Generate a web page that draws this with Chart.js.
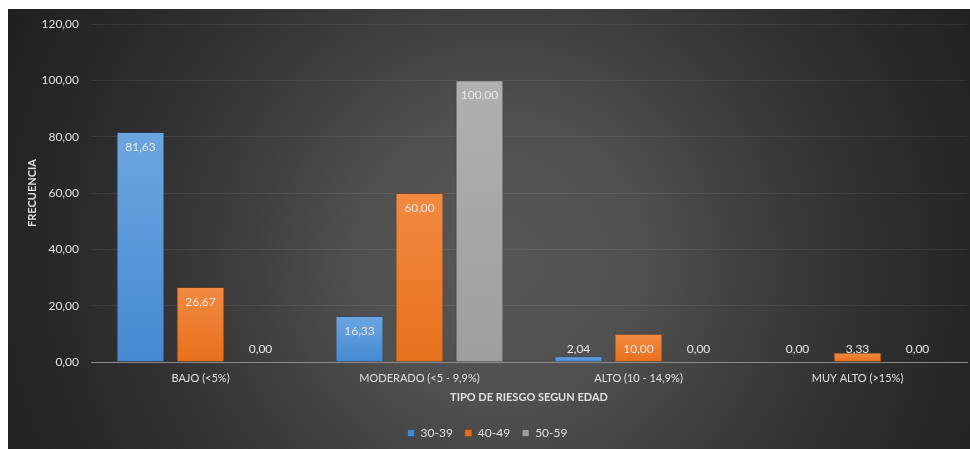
<!DOCTYPE html>
<html>
<head>
<meta charset="utf-8">
<script src="https://cdn.jsdelivr.net/npm/chart.js@4/dist/chart.umd.min.js"></script>
<style>
  body { margin: 0; background: #fff; width: 970px; height: 449px; overflow: hidden; }
  #wrap {
    position: absolute; left: 8px; top: 9px; width: 962px; height: 440px;
    background: radial-gradient(circle 560px at 492px 251px, #575757 0px, #4f4f4f 150px, #3f3f3f 250px, #323232 350px, #282828 450px, #1f1f1f 560px);
  }
</style>
</head>
<body>
<div id="wrap"><canvas id="myChart" width="962" height="440"></canvas></div>
<script>
// categories and series
const categorias = ["BAJO (<5%)", "MODERADO (<5 - 9,9%)", "ALTO (10 - 14,9%)", "MUY ALTO (>15%)"];
const edad30a39 = [81.63, 16.33, 2.04, 0];
const edad40a49 = [26.67, 60.0, 10.0, 3.33];
const edad50a59 = [0, 100.0, 0, 0];

const fmt = (v) => v.toFixed(2).replace(".", ","); //comma decimals

//vertical gradient for each bar, from its top to the zero line
function barFill(top, bottom) {
  return (ctx) => {
    const chart = ctx.chart;
    const y = chart.scales.y;
    if (!y || ctx.raw === undefined) return bottom;
    const y1 = y.getPixelForValue(ctx.raw);
    const y0 = y.getPixelForValue(0);
    if (!isFinite(y1) || !isFinite(y0) || y0 - y1 < 1) return bottom;
    const g = chart.ctx.createLinearGradient(0, y1, 0, y0);
    g.addColorStop(0, top);
    g.addColorStop(1, bottom);
    return g;
  };
}

//value labels like excel "inside end"
const valueLabels = {
  id: "valueLabels",
  afterDatasetsDraw(chart) {
    const ctx = chart.ctx;
    const base = chart.scales.y.getPixelForValue(0);
    ctx.save();
    ctx.font = "12px Lato";
    ctx.textAlign = "center";
    ctx.textBaseline = "middle";
    chart.data.datasets.forEach((ds, di) => {
      const meta = chart.getDatasetMeta(di);
      meta.data.forEach((bar, i) => {
        const y = Math.min(bar.y + 15, base - 13);
        ctx.fillStyle = "#e6e6e6";
        ctx.fillText(fmt(ds.data[i]), bar.x, y);
      });
    });
    ctx.restore();
  },
};

const ctx = document.getElementById("myChart");
const myChart = new Chart(ctx, {
  type: "bar",
  data: {
    labels: categorias,
    datasets: [
      {
        label: "30-39",
        data: edad30a39,
        backgroundColor: barFill("#6ca6df", "#4589d2"),
        borderColor: "rgba(40,70,110,0.6)",
        borderWidth: 1,
      },
      {
        label: "40-49",
        data: edad40a49,
        backgroundColor: barFill("#f28a42", "#e8701c"),
        borderColor: "rgba(120,60,20,0.6)",
        borderWidth: 1,
      },
      {
        label: "50-59",
        data: edad50a59,
        backgroundColor: barFill("#b0b0b0", "#9e9e9e"),
        borderColor: "rgba(60,60,60,0.6)",
        borderWidth: 1,
      },
    ],
  },
  options: {
    responsive: false,
    animation: false,
    layout: { padding: { top: 15, right: 3, left: 0, bottom: 0 } },
    datasets: {
      bar: { categoryPercentage: 0.822, barPercentage: 0.8 },
    },
    scales: {
      x: {
        grid: { display: false, drawTicks: false },
        border: { display: true, color: "#8c8c8c", width: 1 },
        ticks: { color: "#e0e0e0", font: { family: "Lato", size: 11 }, padding: 10 },
        title: {
          display: true,
          text: "TIPO DE RIESGO SEGUN EDAD",
          color: "#e0e0e0",
          font: { family: "Lato", size: 11, weight: "bold" },
          padding: { top: 0, bottom: 11 },
        },
        afterFit: (axis) => { axis.height = 53; },
      },
      y: {
        min: 0,
        max: 120,
        ticks: {
          stepSize: 20,
          color: "#e0e0e0",
          font: { family: "Lato", size: 12 },
          padding: 12,
          callback: (v) => fmt(v),
        },
        grid: { color: "rgba(255,255,255,0.07)", drawTicks: false },
        border: { display: false },
        title: {
          display: true,
          text: "FRECUENCIA",
          color: "#e0e0e0",
          font: { family: "Lato", size: 11, weight: "bold" },
          padding: { top: 18, bottom: 0 },
        },
        afterFit: (axis) => {
          axis.width = 83;
          axis.paddingTop = 0; //let layout padding set the top
          axis.paddingBottom = 0;
        },
      },
    },
    plugins: {
      legend: {
        position: "bottom",
        labels: {
          color: "#e0e0e0",
          font: { family: "Lato", size: 12 },
          boxWidth: 7,
          boxHeight: 7,
          padding: 12,
        },
      },
      tooltip: { enabled: false },
    },
  },
  plugins: [valueLabels],
});
</script>
</body>
</html>
